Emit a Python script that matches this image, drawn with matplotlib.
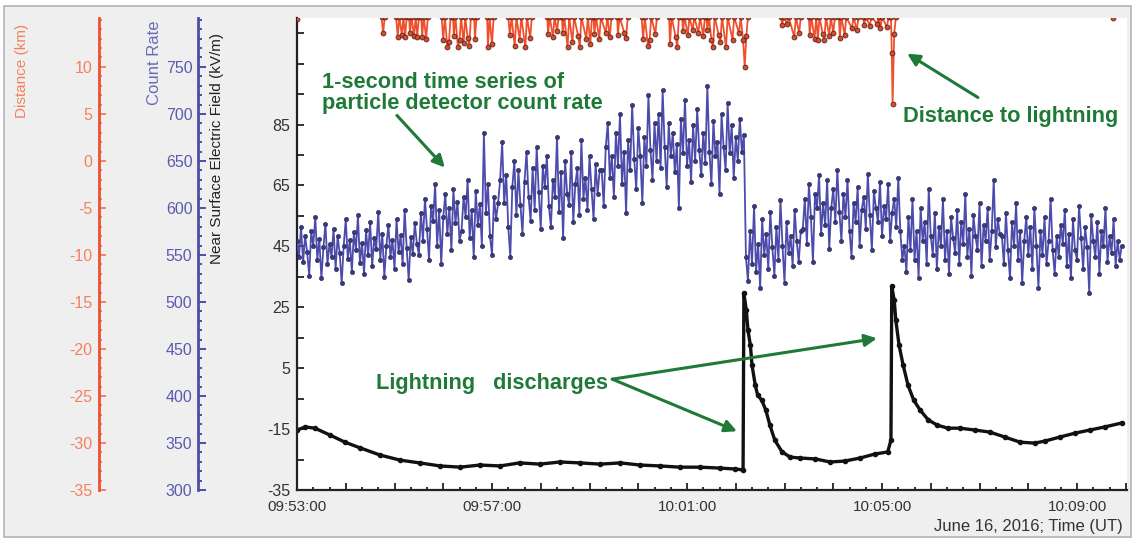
import numpy as np
import matplotlib.pyplot as plt
from matplotlib.ticker import FixedLocator, FuncFormatter, MultipleLocator
from matplotlib.patches import Rectangle

plt.rcParams['font.family'] = ['Liberation Sans', 'DejaVu Sans']
plt.rcParams['axes.unicode_minus'] = False

W, H = 1134, 542
T0 = 9 * 3600 + 53 * 60          # 09:53:00 UT, times below are seconds after this
nan = np.nan

# particle detector count rate (1-s series, every 2.5 s)
count_step = 2.5
count_rate = [
    565, 548, 580, 542, 570, 553, 528, 575, 560, 590,
    545, 567, 525, 558, 583, 540, 562, 548, 578, 535,
    570, 552, 520, 560, 588, 546, 566, 532, 574, 555,
    592, 541, 563, 530, 576, 550, 585, 538, 568, 556,
    596, 545, 572, 527, 560, 582, 548, 566, 535, 588,
    553, 571, 540, 598, 557, 523, 569, 551, 584, 562,
    550,
    595, 565, 610, 578, 545, 602, 586, 625, 560, 598,
    540, 590, 615, 572, 600, 555, 620, 584, 606, 565,
    575, 612, 590, 630, 568, 598, 548, 618, 582, 604,
    560, 680, 595, 625, 570, 550, 612, 588, 605, 630,
    670, 605, 635, 580, 548, 622, 650, 592, 640, 603,
    572, 628, 660, 612, 586, 642, 598, 665, 617, 578,
    645, 622, 655, 602, 580, 630, 612, 675, 596, 638,
    568, 650, 615, 603, 660, 585, 625, 642, 592, 672,
    610, 632, 598, 655, 620, 588, 647, 615, 640,
    640, 602, 665, 690, 632, 655, 612, 680, 645, 700,
    625, 660, 595, 672, 640, 710, 652, 620, 685, 655,
    605, 675, 645, 720, 662, 630, 690, 650, 700, 642,
    725, 665, 622, 690, 655, 680, 638, 668, 600, 695,
    658, 715, 645, 672, 628, 688, 650, 705, 662, 635,
    680, 648, 730, 660, 625, 692, 655, 670, 615, 700,
    665, 640, 712, 658, 688, 632, 675, 650, 695, 660,
    678,
    548, 522, 575, 540, 602, 532, 562, 515, 588, 550,
    572, 535, 596, 558, 528, 580, 545, 608, 560, 520,
    585, 552, 570, 538, 598, 565, 542, 575,
    578, 610, 562, 625, 590, 542, 615, 600, 635, 572,
    605, 582, 630, 556, 600, 620, 585, 640, 596, 565,
    615, 590, 630, 575, 548, 605, 585, 622, 560, 598,
    612, 578, 636, 592, 555, 618, 600, 585, 628, 570,
    602, 588, 625, 565, 595, 610, 580, 632, 575, 545,
    560, 532, 590, 555, 610, 545, 575, 525, 600, 565,
    585, 540, 620, 570, 550, 595, 535, 580, 560, 610,
    545, 575, 530, 590, 568, 552, 598, 540, 585, 562,
    615, 548, 578, 528, 592, 570, 555, 605, 538, 582,
    565, 600, 545, 575, 630, 558, 588, 572,
    570, 540, 595, 555, 525, 585, 560, 605, 545, 575,
    520, 565, 590, 550, 580, 535, 600, 560, 515, 575,
    550, 590, 540, 565, 610, 555, 530, 570, 548, 582,
    562, 598, 538, 572, 525, 588, 555, 545, 602, 568,
    535, 580, 558, 510, 592, 565, 548, 585, 530, 575,
    560, 600, 542, 570, 552, 588, 538, 565, 545, 560,
]
count_time = np.arange(len(count_rate)) * count_step

# near surface electric field (kV/m)
field_time = [0, 10, 22, 41, 59, 78, 102, 127, 151, 176, 201, 225, 250, 274, 299, 324,
              348, 373, 398, 422, 447, 471, 496, 520, 539, 549, 550, 553, 555, 558, 560,
              564, 567, 572, 577, 582, 588, 597, 607, 619, 638, 656, 674, 693, 711, 727,
              731, 732, 735, 737, 741, 746, 752, 759, 767, 777, 788, 801, 816, 834, 853,
              871, 890, 908, 921, 939, 958, 976, 994, 1015]
field_kvm = [-15.3, -14.3, -14.7, -17.0, -19.3, -21.2, -23.5, -25.2, -26.1, -27.1, -27.5,
             -26.8, -27.1, -26.1, -26.5, -25.8, -26.1, -26.5, -26.1, -26.8, -27.1, -27.5,
             -27.5, -27.8, -28.1, -28.4, 29.6, 24.0, 17.5, 12.5, 6.0, -0.6, -3.9, -5.5,
             -8.8, -13.7, -18.6, -22.5, -24.2, -24.5, -24.8, -25.8, -25.5, -24.5, -23.2,
             -22.5, -18.6, 31.9, 27.3, 20.7, 12.5, 6.0, -0.6, -5.5, -8.8, -12.0, -13.7,
             -14.7, -14.7, -15.3, -16.0, -17.6, -19.3, -19.6, -18.9, -17.6, -16.3, -15.3,
             -14.3, -13.0]

# distance to lightning (km); 15.3 is just past the top of the scale
dist_time = [0, 1,
             104, 106, 108,
             122, 124, 126, 129, 131, 133, 135,
             138, 139, 141, 144, 146, 148, 150,
             153, 154, 156, 159, 161,
             178, 180, 182, 185, 187, 189,
             192, 193, 195, 198, 200, 202, 205, 207, 210, 212, 214,
             218, 219, 221,
             234, 235, 237, 240, 242,
             260, 262, 264, 268, 270, 274, 276, 281, 283, 287, 289,
             308, 309, 311, 315, 317, 320, 322,
             326, 327, 329, 333, 335, 339, 341, 346, 348, 350, 356, 358, 361, 363,
             365, 366, 368, 372, 374, 380, 382, 385, 387,
             394, 395, 397, 403, 405, 407,
             424, 426, 428, 432, 434, 436, 441, 443,
             458, 459, 461, 466, 468, 470,
             474, 475, 477, 481, 483, 487, 489, 494, 496, 500, 502,
             504, 505, 507, 510, 512, 514, 519, 521, 523, 528, 530, 536, 538, 544, 546,
             549, 551, 553, 555,
             596, 597, 599, 603, 605, 612, 614, 618, 620,
             630, 631, 633, 637, 639, 641, 643, 647, 649, 651, 655, 657, 660, 662,
             667, 668, 670, 674, 676, 683, 685, 689, 691,
             697, 698, 700, 705, 707, 714, 716, 718, 720, 726, 728,
             731, 732, 733, 735, 737,
             1003, 1004]
dist_km = [15.1, nan,
           15.3, 13.6, 15.3,
           15.3, 13.2, 15.3, 13.4, 15.3, 13.2, 15.3,
           15.3, 13.6, 15.3, 13.3, 15.3, 13.2, 15.3,
           15.3, 13.2, 15.3, 13.0, 15.3,
           15.3, 12.9, 15.3, 12.1, 12.6, 15.3,
           15.3, 13.3, 15.3, 12.1, 12.9, 15.3, 12.5, 15.3, 13.1, 12.2, 15.3,
           15.3, 13.0, 15.3,
           15.3, 12.1, 15.3, 12.4, 15.3,
           15.3, 13.4, 15.3, 12.2, 15.3, 12.9, 15.3, 12.1, 15.3, 13.1, 15.3,
           15.3, 13.5, 15.3, 13.2, 15.3, 13.8, 15.3,
           15.3, 13.6, 15.3, 12.1, 15.3, 12.6, 15.3, 13.3, 12.1, 15.3, 13.0, 15.3, 12.4, 15.3,
           15.3, 13.5, 15.3, 13.0, 15.3, 13.6, 15.3, 13.2, 15.3,
           15.3, 13.4, 15.3, 13.6, 13.1, 15.3,
           15.3, 13.0, 15.3, 12.2, 12.9, 15.3, 13.5, 15.3,
           15.3, 12.4, 15.3, 13.2, 12.1, 15.3,
           15.3, 13.8, 15.3, 13.4, 15.3, 13.9, 15.3, 13.6, 15.3, 13.3, 15.3,
           15.3, 13.9, 15.3, 12.9, 12.1, 15.3, 13.4, 12.6, 15.3, 12.1, 15.3, 12.9, 15.3,
           13.6, 15.3, 12.9, 10.0, 13.3, 15.3,
           15.3, 14.5, 15.3, 14.6, 15.3, 13.2, 15.3, 13.6, 15.3,
           15.3, 13.4, 15.3, 13.0, 15.3, 12.9, 15.3, 13.5, 12.9, 15.3, 13.3, 15.3, 13.6, 15.3,
           15.3, 13.1, 15.3, 13.4, 15.3, 14.1, 15.3, 13.9, 15.3,
           15.3, 14.5, 15.3, 14.4, 15.3, 14.6, 15.3, 14.1, 15.3, 14.2, 15.3,
           15.3, 11.5, 6.1, 13.5, 15.3,
           nan, 15.2]

field_ticks = [-35, -15, 5, 25, 45, 65, 85]
count_ticks = [300, 350, 400, 450, 500, 550, 600, 650, 700, 750]
dist_ticks = [-35, -30, -25, -20, -15, -10, -5, 0, 5, 10]

GREEN = '#1f7a38'
BLUE = '#4d4da6'
RED = '#f0502e'


def clock(t, pos=None):
    t = int(round(t))
    if t % 240:
        return ''
    s = T0 + t
    return f'{s // 3600:02d}:{s // 60 % 60:02d}:{s % 60:02d}'


fig = plt.figure(figsize=(W / 100, H / 100), dpi=100, facecolor='white')
fig.add_artist(Rectangle((4 / W, 1 - 537 / H), 1127 / W, 531 / H, transform=fig.transFigure,
                         facecolor='#efefef', edgecolor='#b4b4b4', lw=1.2, zorder=-10))

# electric field on the main axis
ax = fig.add_axes([297 / W, 1 - 490 / H, 830 / W, 472 / H])
ax.set_facecolor('white')
ax.plot(field_time, field_kvm, color='#111111', lw=2.4, marker='o', ms=3,
        mfc='#111111', mec='#111111')
ax.set_xlim(0, 1021.5)
ax.set_ylim(-35, 120)
for s in ('top', 'right'):
    ax.spines[s].set_visible(False)
for s in ('left', 'bottom'):
    ax.spines[s].set_linewidth(1.6)
    ax.spines[s].set_color('#222222')
ax.yaxis.set_major_locator(FixedLocator(np.arange(-35, 120, 10)))
ax.yaxis.set_major_formatter(FuncFormatter(
    lambda v, p: f'{v:.0f}' if round(v) in field_ticks else ''))
ax.xaxis.set_major_locator(MultipleLocator(60))
ax.xaxis.set_minor_locator(MultipleLocator(20))
ax.xaxis.set_major_formatter(FuncFormatter(clock))
ax.tick_params(which='both', direction='in', color='#222222', width=1.3)
ax.tick_params(axis='y', length=5, pad=5, labelsize=11.5, labelcolor='#333333')
ax.tick_params(axis='x', which='major', length=5, pad=7, labelsize=11, labelcolor='#333333')
ax.tick_params(axis='x', which='minor', length=2.2)
ax.set_ylabel('Near Surface Electric Field (kV/m)', fontsize=11, color='#222222')
ax.yaxis.set_label_coords((224 - 297) / 830, 1 - (149 - 18) / 472)

# count rate, its axis moved out to the left
axc = ax.twinx()
axc.plot(count_time, count_rate, color='#4c4cac', lw=1.3, marker='o', ms=3,
         mfc='#3a3a78', mec='#303066', mew=0.5)
axc.set_ylim(300, 802)
for s in ('top', 'right', 'bottom'):
    axc.spines[s].set_visible(False)
axc.spines['left'].set_visible(True)
axc.spines['left'].set_position(('axes', (198 - 297) / 830))
axc.spines['left'].set_color(BLUE)
axc.spines['left'].set_linewidth(2)
axc.yaxis.tick_left()
axc.yaxis.set_label_position('left')
axc.yaxis.set_major_locator(FixedLocator(count_ticks))
axc.yaxis.set_minor_locator(MultipleLocator(10))
axc.tick_params(which='both', direction='in', color=BLUE, width=1.4,
                labelcolor='#5a5ab0', labelsize=11.5, pad=4)
axc.tick_params(which='major', length=6)
axc.tick_params(which='minor', length=3)
axc.set_ylabel('Count Rate', color='#6a6ab8', fontsize=12)
axc.yaxis.set_label_coords((162 - 297) / 830, 1 - (63 - 18) / 472)

# distance to lightning, outermost axis
axd = ax.twinx()
axd.plot(dist_time, dist_km, color=RED, lw=1.3, marker='o', ms=3.5,
         mfc='#d84a30', mec='#5a2418', mew=0.6)
axd.set_ylim(-35, 15.2)
for s in ('top', 'right', 'bottom'):
    axd.spines[s].set_visible(False)
axd.spines['left'].set_visible(True)
axd.spines['left'].set_position(('axes', (99 - 297) / 830))
axd.spines['left'].set_color(RED)
axd.spines['left'].set_linewidth(2)
axd.yaxis.tick_left()
axd.yaxis.set_label_position('left')
axd.yaxis.set_major_locator(FixedLocator(dist_ticks))
axd.yaxis.set_minor_locator(MultipleLocator(1))
axd.tick_params(which='both', direction='in', color='#f07a5c', width=1.3,
                labelcolor='#f4805f', labelsize=11.5, pad=5)
axd.tick_params(which='major', length=5)
axd.tick_params(which='minor', length=2.5)
axd.set_ylabel('Distance (km)', color='#f4805f', fontsize=11)
axd.yaxis.set_label_coords((29 - 297) / 830, 1 - (71 - 18) / 472)

# annotations, placed in electric field units so they sit on top of all series
arrow = dict(arrowstyle='-|>', color=GREEN, lw=2.2, mutation_scale=18, shrinkA=0, shrinkB=0)
tkw = dict(transform=ax.transData, color=GREEN, fontsize=15.7, fontweight='bold')

axd.text(31, 95.3, '1-second time series of\nparticle detector count rate',
         va='center', ha='left', linespacing=1.0, **tkw)
axd.annotate('', xy=(182, 70.9), xytext=(123, 88.0), xycoords=ax.transData,
             textcoords=ax.transData, arrowprops=arrow)

axd.text(746, 87.6, 'Distance to lightning', va='center', ha='left', **tkw)
axd.annotate('', xy=(751, 108.3), xytext=(838, 93.9), xycoords=ax.transData,
             textcoords=ax.transData, arrowprops=arrow)

axd.text(97, 0.1, 'Lightning   discharges', va='center', ha='left', **tkw)
for tip in [(541.5, -15.7), (713.8, 14.8)]:
    axd.annotate('', xy=tip, xytext=(388, 1.4), xycoords=ax.transData,
                 textcoords=ax.transData, arrowprops=arrow)

fig.text(1123 / W, 1 - 526 / H, 'June 16, 2016; Time (UT)', ha='right', va='center',
         fontsize=12, color='#333333')

fig.savefig('out.png', dpi=100, facecolor=fig.get_facecolor())
